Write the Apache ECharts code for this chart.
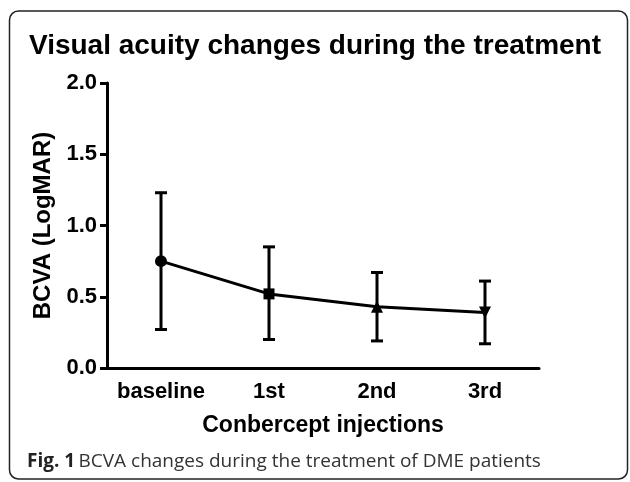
<!DOCTYPE html>
<html>
<head>
<meta charset="utf-8">
<script src="https://cdn.jsdelivr.net/npm/echarts@6/dist/echarts.min.js"></script>
<style>
  html, body { margin: 0; padding: 0; background: #fff; }
  #main { width: 630px; height: 482px; }
</style>
</head>
<body>
<div id="main"></div>
<script>
// data
var categories = ['baseline', '1st', '2nd', '3rd'];
var meanValues = [0.75, 0.52, 0.43, 0.39];
var upperValues = [1.23, 0.85, 0.67, 0.61];
var lowerValues = [0.27, 0.20, 0.19, 0.17];
var markerShapes = ['circle', 'rect', 'triangle', 'triangle'];
var markerRotate = [0, 0, 0, 180];

var chart = echarts.init(document.getElementById('main'), null, { renderer: 'canvas' });

var errData = categories.map(function (c, i) {
  return [i, lowerValues[i], upperValues[i]];
});

var lineData = meanValues.map(function (v, i) {
  return {
    value: v,
    symbol: markerShapes[i],
    symbolRotate: markerRotate[i],
    symbolSize: i === 0 ? 12 : (i === 1 ? 11 : 12)
  };
});

var option = {
  animation: false,
  backgroundColor: '#fff',
  textStyle: { fontFamily: 'Liberation Sans, Arial, sans-serif' },
  title: {
    text: 'Visual acuity changes during the treatment',
    left: 'center',
    top: 27,
    textStyle: { fontSize: 28, fontWeight: 'bold', color: '#000', fontFamily: 'Liberation Sans' }
  },
  grid: { left: 107, right: 91, top: 83, bottom: 114, containLabel: false },
  xAxis: {
    type: 'category',
    data: categories,
    boundaryGap: true,
    name: 'Conbercept injections',
    nameLocation: 'middle',
    nameGap: 46,
    nameTextStyle: { fontSize: 23, fontWeight: 'bold', color: '#000', fontFamily: 'Liberation Sans' },
    axisLine: { lineStyle: { color: '#000', width: 3 } },
    axisTick: { alignWithLabel: true, length: 7, lineStyle: { color: '#000', width: 3 } },
    axisLabel: { interval: 0, fontSize: 22, fontWeight: 'bold', color: '#000', margin: 13, fontFamily: 'Liberation Sans' },
    splitLine: { show: false }
  },
  yAxis: {
    type: 'value',
    min: 0,
    max: 2,
    interval: 0.5,
    name: 'BCVA (LogMAR)',
    nameLocation: 'middle',
    nameGap: 48,
    nameTextStyle: { fontSize: 24, fontWeight: 'bold', color: '#000', fontFamily: 'Liberation Sans' },
    axisLine: { show: true, lineStyle: { color: '#000', width: 3 } },
    axisTick: { show: true, length: 7, lineStyle: { color: '#000', width: 3 } },
    axisLabel: {
      fontSize: 22, fontWeight: 'bold', color: '#000', margin: 10, fontFamily: 'Liberation Sans',
      formatter: function (v) { return v.toFixed(1); }
    },
    splitLine: { show: false }
  },
  series: [
    {
      type: 'custom',
      data: errData,
      z: 2,
      renderItem: function (params, api) {
        var x = api.value(0);
        var lo = api.coord([x, api.value(1)]);
        var hi = api.coord([x, api.value(2)]);
        var half = 6;
        var style = { stroke: '#000', lineWidth: 3, fill: null };
        return {
          type: 'group',
          children: [
            { type: 'line', shape: { x1: lo[0], y1: lo[1], x2: hi[0], y2: hi[1] }, style: style },
            { type: 'line', shape: { x1: hi[0] - half, y1: hi[1], x2: hi[0] + half, y2: hi[1] }, style: style },
            { type: 'line', shape: { x1: lo[0] - half, y1: lo[1], x2: lo[0] + half, y2: lo[1] }, style: style }
          ]
        };
      }
    },
    {
      type: 'line',
      data: lineData,
      z: 3,
      lineStyle: { color: '#000', width: 3 },
      itemStyle: { color: '#000', borderColor: '#000', borderWidth: 0 }
    }
  ],
  graphic: [
    {
      type: 'rect',
      shape: { x: 9.5, y: 11, width: 618, height: 468, r: 9 },
      style: { fill: null, stroke: '#222', lineWidth: 1.5 },
      silent: true
    },
    {
      type: 'text',
      left: 27,
      top: 452,
      style: {
        text: '{b|Fig. 1} {r|BCVA changes during the treatment of DME patients}',
        rich: {
          b: { fontFamily: 'Open Sans', fontWeight: 'bold', fontSize: 19, fill: '#222' },
          r: { fontFamily: 'Open Sans', fontSize: 19, fill: '#333' }
        }
      }
    }
  ]
};

chart.setOption(option);
</script>
</body>
</html>
